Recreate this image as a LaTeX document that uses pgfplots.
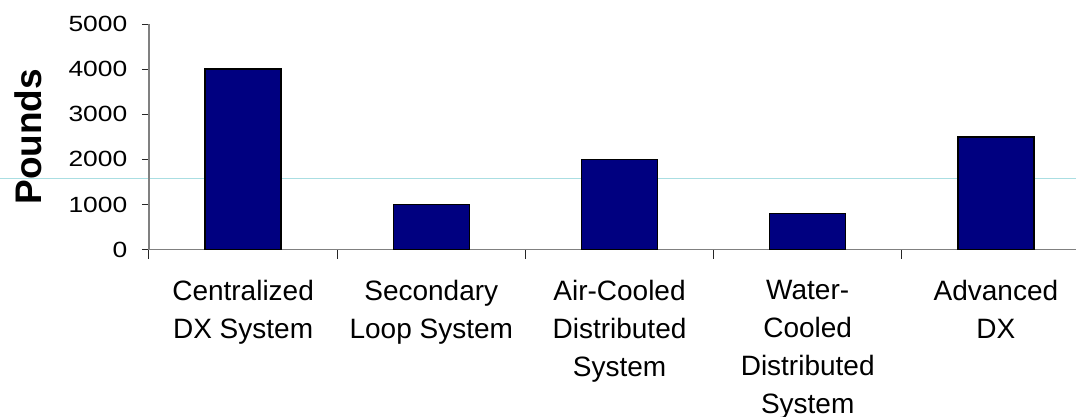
\documentclass[border=0pt]{standalone}
\usepackage{fontspec}
\setmainfont{Liberation Sans}
\newfontfamily\tickfont[FakeStretch=1.2]{Liberation Sans}
\usepackage{pgfplots}
\pgfplotsset{compat=1.18}
\definecolor{barblue}{RGB}{0,0,128}
\definecolor{axisgray}{RGB}{128,128,128}
\definecolor{cyanline}{RGB}{170,222,226}
\begin{document}
\begin{tikzpicture}
\useasboundingbox (0,0) rectangle (807pt,312.75pt);
\clip (0,0) rectangle (807pt,312.75pt);
\draw[cyanline, line width=0.9pt] (0,178.9pt) -- (807pt,178.9pt);
\begin{axis}[
  at={(111.75pt,125.6pt)}, anchor=south west,
  scale only axis, width=705.75pt, height=169.1pt,
  xmin=-0.5, xmax=4.5, ymin=0, ymax=5000,
  axis x line=bottom, axis y line=left,
  axis line style={-, axisgray, line width=1pt},
  ytick={0,1000,2000,3000,4000,5000},
  xtick={0,1,2,3,4},
  xticklabels={Centralized\\DX System, Secondary\\Loop System, Air-Cooled\\Distributed\\System, Water-\\Cooled\\Distributed\\System, Advanced\\DX},
  minor xtick={-0.5,0.5,1.5,2.5,3.5,4.5},
  tick align=outside,
  major tick length=5.25pt,
  minor tick length=6.75pt,
  major x tick style={draw=none},
  tick style={black!85, line width=0.75pt},
  /pgf/number format/assume math mode=true,
  yticklabel style={font=\tickfont\fontsize{16.5}{18}\selectfont, /pgf/number format/1000 sep={}, xshift=-7.5pt},
  xticklabel style={font=\fontsize{21}{28.5}\selectfont, align=center, anchor=north, yshift=-14.5pt},
  ylabel={\bfseries Pounds},
  ylabel style={font=\fontsize{27.75}{30}\selectfont, at={(axis description cs:-0.1283,0.5)}, anchor=center, rotate=0},
]
\addplot[ybar, bar width=57pt, fill=barblue, draw=black, line width=1.1pt] coordinates {(0,4000) (1,1000) (2,2000) (3,800) (4,2500)};
\end{axis}
\end{tikzpicture}
\end{document}
